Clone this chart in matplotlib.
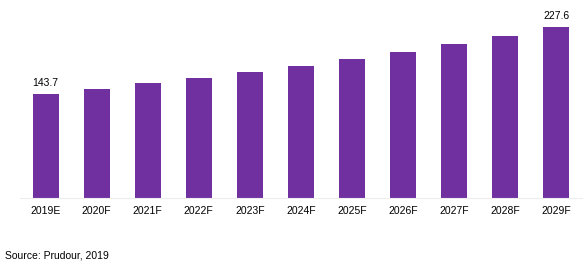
import matplotlib
matplotlib.use("Agg")
import matplotlib.pyplot as plt

plt.rcParams['font.family'] = ['Liberation Sans', 'DejaVu Sans']

years = ["2019E", "2020F", "2021F", "2022F", "2023F", "2024F",
         "2025F", "2026F", "2027F", "2028F", "2029F"]
values = [143.7, 149.9, 157.4, 163.7, 171.2, 178.7,
          187.5, 196.2, 206.3, 216.3, 227.6]
shown = {0: "143.7", 10: "227.6"}

fig = plt.figure(figsize=(5.88, 2.65), dpi=100)
ax = fig.add_axes([20/588, (265-197.7)/265, (581.7-20)/588, (197.7-8)/265])

x = range(len(years))
bars = ax.bar(x, values, width=0.51, color="#7030A0", zorder=2)

for i, lab in shown.items():
    ax.annotate(lab, (i, values[i]), xytext=(0, 4), textcoords="offset points",
                ha="center", va="bottom", fontsize=7.5, color="#000000")

ax.set_xlim(-0.5, 10.5)
ax.set_ylim(13.8, 13.8 + 189.7/0.7986)
ax.set_xticks(list(x))
ax.set_xticklabels(years, fontsize=7.5, color="#000000")
ax.tick_params(axis="x", length=0, pad=6)
ax.set_yticks([])
for s in ["top", "right", "left"]:
    ax.spines[s].set_visible(False)
ax.spines["bottom"].set_color("#EDEDED")
ax.spines["bottom"].set_linewidth(0.8)

fig.text(5/588, 1 - 256/265, "Source: Prudour, 2019", fontsize=7.5,
         ha="left", va="center", color="#000000")

fig.savefig("out.png", dpi=100)
